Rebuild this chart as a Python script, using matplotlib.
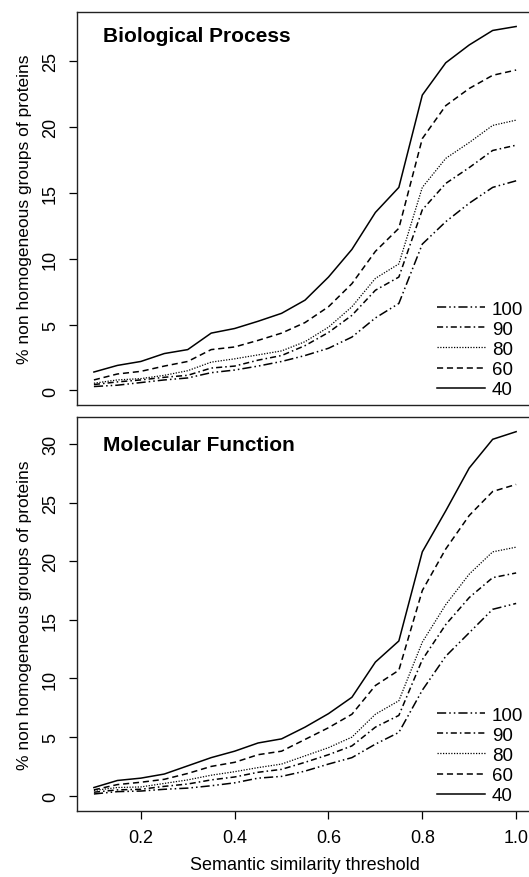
import matplotlib
matplotlib.use('Agg')
import matplotlib.pyplot as plt

plt.rcParams['font.family'] = ['Liberation Sans', 'DejaVu Sans']

# umbral de similitud semantica
umbral = [0.1, 0.15, 0.2, 0.25, 0.3, 0.35, 0.4, 0.45, 0.5, 0.55,
          0.6, 0.65, 0.7, 0.75, 0.8, 0.85, 0.9, 0.95, 1.0]

# Biological Process
bp_100 = [0.3, 0.4, 0.6, 0.8, 0.95, 1.35, 1.55, 1.85, 2.2, 2.65,
          3.2, 4.05, 5.5, 6.6, 11.1, 12.8, 14.2, 15.4, 15.9]
bp_90 = [0.45, 0.65, 0.8, 1.0, 1.15, 1.7, 1.85, 2.3, 2.65, 3.4,
         4.4, 5.7, 7.6, 8.6, 13.7, 15.7, 16.9, 18.2, 18.6]
bp_80 = [0.55, 0.8, 0.9, 1.15, 1.5, 2.15, 2.4, 2.7, 3.0, 3.7,
         4.8, 6.35, 8.5, 9.6, 15.4, 17.6, 18.8, 20.1, 20.5]
bp_60 = [0.8, 1.25, 1.45, 1.85, 2.2, 3.1, 3.3, 3.8, 4.35, 5.15,
         6.35, 8.1, 10.55, 12.3, 19.1, 21.6, 22.9, 23.9, 24.3]
bp_40 = [1.4, 1.9, 2.2, 2.8, 3.1, 4.35, 4.7, 5.25, 5.85, 6.85,
         8.6, 10.7, 13.5, 15.4, 22.4, 24.85, 26.2, 27.3, 27.6]

# Molecular Function
mf_100 = [0.15, 0.35, 0.4, 0.55, 0.65, 0.85, 1.1, 1.5, 1.65, 2.1,
          2.7, 3.25, 4.4, 5.4, 9.0, 11.9, 13.9, 15.9, 16.4]
mf_90 = [0.3, 0.5, 0.55, 0.8, 1.0, 1.35, 1.6, 2.0, 2.25, 2.85,
         3.5, 4.25, 5.85, 6.85, 11.6, 14.6, 16.9, 18.6, 19.0]
mf_80 = [0.45, 0.7, 0.75, 1.05, 1.35, 1.75, 2.05, 2.4, 2.7, 3.4,
         4.1, 5.0, 6.95, 8.1, 13.1, 16.3, 18.9, 20.8, 21.2]
mf_60 = [0.5, 0.95, 1.15, 1.4, 1.9, 2.5, 2.85, 3.5, 3.8, 4.8,
         5.8, 6.95, 9.4, 10.7, 17.5, 21.05, 23.9, 25.95, 26.55]
mf_40 = [0.7, 1.3, 1.5, 1.85, 2.55, 3.25, 3.8, 4.5, 4.85, 5.85,
         7.0, 8.4, 11.4, 13.2, 20.8, 24.3, 27.95, 30.4, 31.05]

etiquetas = ['100', '90', '80', '60', '40']
estilos = [(0, (6, 2, 1, 2, 1, 2)),
           (0, (4, 2, 1, 2)),
           (0, (1, 1.2)),
           (0, (4, 2.5)),
           '-']
x_ticks = [0.2, 0.4, 0.6, 0.8, 1.0]

paneles = [
    ('Biological Process', [bp_100, bp_90, bp_80, bp_60, bp_40],
     [0, 5, 10, 15, 20, 25], (-1.1, 28.7), [0.1456, 0.5376, 0.862, 0.4476], 0.965),
    ('Molecular Function', [mf_100, mf_90, mf_80, mf_60, mf_40],
     [0, 5, 10, 15, 20, 25, 30], (-1.3, 32.3), [0.1456, 0.0752, 0.862, 0.4487], 0.955),
]

fig = plt.figure(figsize=(5.29, 8.78), dpi=100)

for i, (titulo, series, y_ticks, y_lim, pos, y_tit) in enumerate(paneles):
    ax = fig.add_axes(pos)
    for valores, estilo, etiqueta in zip(series, estilos, etiquetas):
        lw = 0.9 if etiqueta == '80' else 1.1
        ax.plot(umbral, valores, color='black', linestyle=estilo,
                linewidth=lw, label=etiqueta)
    ax.set_xlim(0.064, 1.036)
    ax.set_ylim(*y_lim)
    ax.set_yticks(y_ticks)
    ax.set_yticklabels([str(t) for t in y_ticks], rotation=90, va='center')
    ax.tick_params(axis='both', direction='out', length=6, width=0.9,
                   labelsize=13, pad=7)
    ax.set_xticks(x_ticks)
    if i == 0:
        ax.tick_params(axis='x', bottom=False, labelbottom=False)
    else:
        ax.set_xticklabels(['0.2', '0.4', '0.6', '0.8', '1.0'])
        ax.set_xlabel('Semantic similarity threshold', fontsize=13,
                      labelpad=7)
    ax.set_ylabel('% non homogeneous groups of proteins', fontsize=12.5,
                  labelpad=7)
    for s in ax.spines.values():
        s.set_linewidth(1.0)
        s.set_color('#222222')
    ax.text(0.057, y_tit, titulo, transform=ax.transAxes, fontsize=15,
            fontweight='bold', va='top', ha='left')
    ax.legend(loc='lower right', bbox_to_anchor=(0.995, -0.002),
              frameon=False, fontsize=13.5, handlelength=2.6,
              handletextpad=0.35, labelspacing=0.16, borderaxespad=0)

fig.savefig('out.png', dpi=100)
